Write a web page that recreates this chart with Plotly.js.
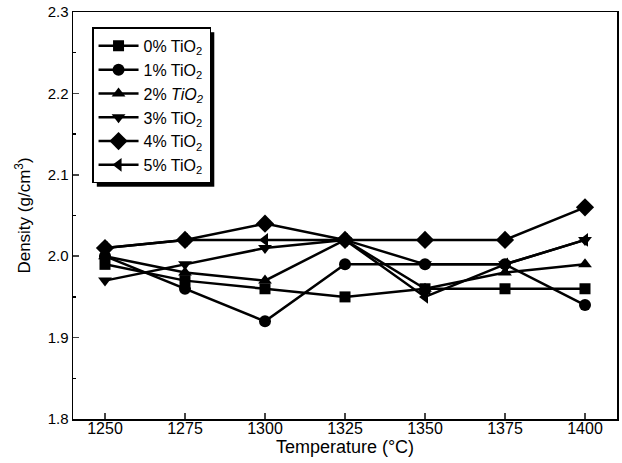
<!DOCTYPE html>
<html><head><meta charset="utf-8">
<script src="https://cdn.plot.ly/plotly-3.0.1.min.js"></script>
<style>html,body{margin:0;padding:0;background:#fff}#c{width:622px;height:463px}</style>
</head><body><div id="c"></div>
<script>
const temps = [1250, 1275, 1300, 1325, 1350, 1375, 1400];
const tio2_0 = [1.99, 1.97, 1.96, 1.95, 1.96, 1.96, 1.96];
const tio2_1 = [2.00, 1.96, 1.92, 1.99, 1.99, 1.99, 1.94];
const tio2_2 = [2.00, 1.98, 1.97, 2.02, 1.96, 1.98, 1.99];
const tio2_3 = [1.97, 1.99, 2.01, 2.02, 1.99, 1.99, 2.02];
const tio2_4 = [2.01, 2.02, 2.04, 2.02, 2.02, 2.02, 2.06];
const tio2_5 = [2.01, 2.02, 2.02, 2.02, 1.95, 1.99, 2.02];
const seriesNames = ['0% TiO<sub>2</sub>', '1% TiO<sub>2</sub>', '2% <i>TiO<sub>2</sub></i>', '3% TiO<sub>2</sub>', '4% TiO<sub>2</sub>', '5% TiO<sub>2</sub>'];
const symbols = ['square', 'circle', 'triangle-up', 'triangle-down', 'diamond', 'triangle-left'];
const sizes = [11, 12, 12, 12, 14, 12];
const values = [tio2_0, tio2_1, tio2_2, tio2_3, tio2_4, tio2_5];

const traces = values.map((v, i) => ({
  x: temps, y: v, name: seriesNames[i], type: 'scatter', mode: 'lines+markers',
  line: {color: '#000', width: 2.5},
  marker: {symbol: symbols[i], size: sizes[i], color: '#000'}
}));

const font = {family: 'Liberation Sans, Arial, sans-serif', color: '#000'};
const layout = {
  width: 622, height: 463,
  margin: {l: 73, r: 5, t: 12, b: 44},
  paper_bgcolor: '#fff', plot_bgcolor: '#fff',
  font: Object.assign({size: 15}, font),
  showlegend: true,
  legend: {x: 0.035, y: 0.962, xanchor: 'left', yanchor: 'top',
    bgcolor: '#fff', bordercolor: '#000', borderwidth: 1.5,
    font: Object.assign({size: 16}, font), itemwidth: 40},
  xaxis: {range: [1240, 1410], tickvals: temps, ticks: 'inside', ticklen: 6, tickwidth: 1.5,
    showline: true, linecolor: '#000', linewidth: 1.5, mirror: true, showgrid: false, zeroline: false,
    ticklabelstandoff: -6,
    tickfont: Object.assign({size: 16}, font),
    title: {text: 'Temperature (°C)', font: Object.assign({size: 18}, font), standoff: 2}},
  yaxis: {range: [1.8, 2.3], dtick: 0.1, tick0: 1.8, tickformat: '.1f', ticks: 'inside', ticklen: 6, tickwidth: 1.5,
    minor: {dtick: 0.05, ticks: 'inside', ticklen: 3, tickcolor: '#000', showgrid: false},
    showline: true, linecolor: '#000', linewidth: 1.5, mirror: true, showgrid: false, zeroline: false,
    tickfont: Object.assign({size: 15}, font),
    title: {text: 'Density (g/cm<sup>3</sup>)', font: Object.assign({size: 17}, font), standoff: 12}}
};
Plotly.newPlot('c', traces, layout, {displayModeBar: false, staticPlot: true}).then(() => {
  const bg = document.querySelector('.legend rect.bg');
  if (bg) {
    const ns = 'http://www.w3.org/2000/svg';
    const sh = document.createElementNS(ns, 'rect');
    const x = parseFloat(bg.getAttribute('x') || 0), y = parseFloat(bg.getAttribute('y') || 0);
    sh.setAttribute('x', x + 4); sh.setAttribute('y', y + 4);
    sh.setAttribute('width', bg.getAttribute('width')); sh.setAttribute('height', bg.getAttribute('height'));
    sh.setAttribute('fill', '#000');
    bg.parentNode.insertBefore(sh, bg);
  }
});
</script></body></html>
